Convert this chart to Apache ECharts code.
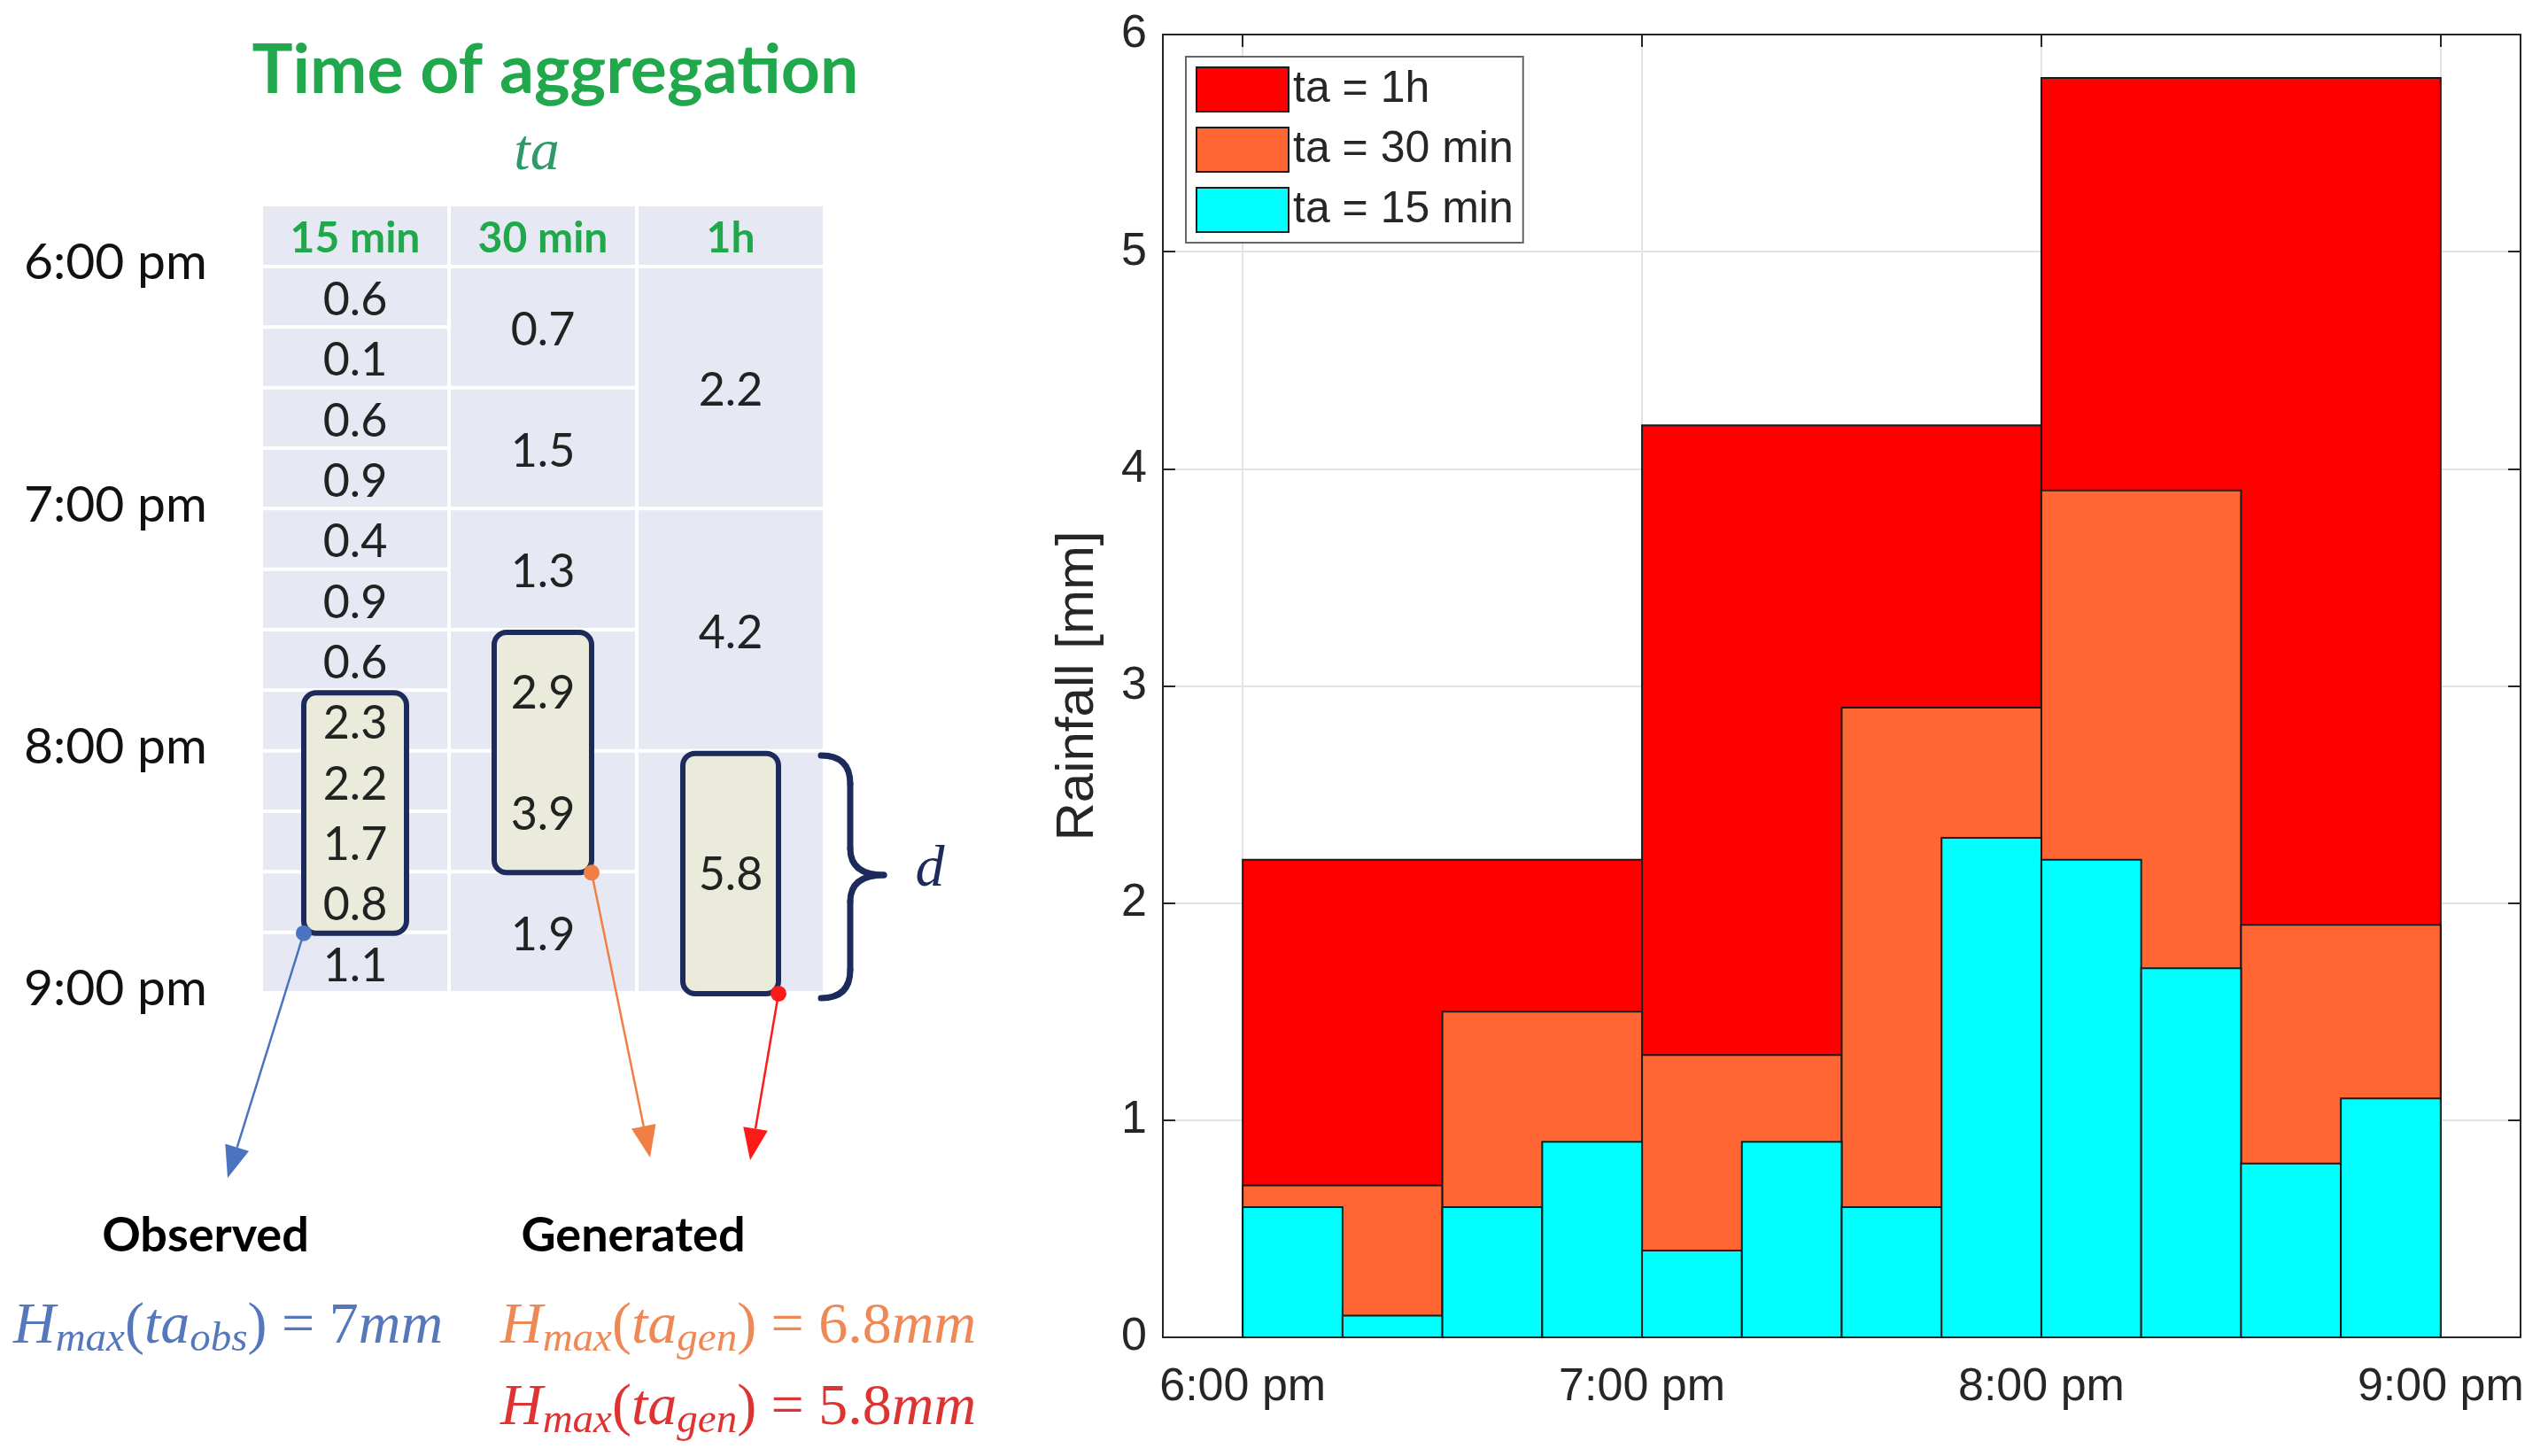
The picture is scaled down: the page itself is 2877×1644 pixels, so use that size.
<!DOCTYPE html>
<html>
<head>
<meta charset="utf-8">
<script src="https://cdn.jsdelivr.net/npm/echarts@6/dist/echarts.min.js"></script>
<style>
html, body { margin: 0; padding: 0; background: #fff; }
#main { width: 2877px; height: 1644px; }
</style>
</head>
<body>
<div id="main"></div>
<script>
// data
var timeLabels = ['6:00 pm', '7:00 pm', '8:00 pm', '9:00 pm'];
var tickMinutes = [0, 60, 120, 180];
var colHeaders = ['15 min', '30 min', '1h'];
var seriesNames = ['ta = 1h', 'ta = 30 min', 'ta = 15 min'];
var rain15 = [0.6, 0.1, 0.6, 0.9, 0.4, 0.9, 0.6, 2.3, 2.2, 1.7, 0.8, 1.1];
var rain30 = [0.7, 1.5, 1.3, 2.9, 3.9, 1.9];
var rain60 = [2.2, 4.2, 5.8];
// highlighted windows in the table: [first cell, number of cells]
var obsWindow = [7, 4];
var gen30Window = [3, 2];
var gen60Window = [2, 1];

var SANS = 'Lato';
var SERIF = 'Liberation Serif';
var navy = '#1c2b5c';
var green = '#22a84c';
var g = [];

function addText(x, y, text, size, color, extra) {
  var st = { text: text, fontSize: size, fontFamily: SANS, fill: color,
    align: 'center', verticalAlign: 'middle', textAlign: 'center', textVerticalAlign: 'middle' };
  for (var k in extra) st[k] = extra[k];
  g.push({ type: 'text', x: x, y: y, z: 20, style: st });
}

// title
addText(627, 80, 'Time of aggregation', 77, green, { fontWeight: 'bold' });
addText(606, 174, 'ta', 66, '#2f9a68', { fontFamily: SERIF, fontStyle: 'italic' });

// table
var tab = { headTop: 233, top: 303, rowH: 68.33, cols: [297, 509, 721], colW: 208 };
var spans = [1, 2, 4];
var colData = [rain15, rain30, rain60];
for (var c = 0; c < 3; c++) {
  var x0 = tab.cols[c];
  g.push({ type: 'rect', z: 1, shape: { x: x0, y: tab.headTop, width: tab.colW, height: tab.top - tab.headTop - 4 }, style: { fill: '#e6e9f3' } });
  addText(x0 + tab.colW / 2, (tab.headTop + tab.top) / 2 + 2, colHeaders[c], 48, green, { fontWeight: 'bold' });
  for (var i = 0; i < colData[c].length; i++) {
    var h = spans[c] * tab.rowH;
    var y0 = tab.top + i * h;
    g.push({ type: 'rect', z: 1, shape: { x: x0, y: y0, width: tab.colW, height: h - 4 }, style: { fill: '#e6e9f3' } });
    addText(x0 + tab.colW / 2, y0 + h / 2 + 2, colData[c][i].toFixed(1), 52, '#222');
  }
}

// time labels
for (var t = 0; t < timeLabels.length; t++) {
  addText(27, tab.top + t * 4 * tab.rowH - 6, timeLabels[t], 57, '#111', { align: 'left', textAlign: 'left' });
}

function arrow(x1, y1, x2, y2, color) {
  var dx = x2 - x1, dy = y2 - y1, len = Math.sqrt(dx * dx + dy * dy);
  var ux = dx / len, uy = dy / len, hl = 36, hw = 14;
  var bx = x2 - ux * hl, by = y2 - uy * hl;
  g.push({ type: 'line', z: 6, shape: { x1: x1, y1: y1, x2: bx, y2: by }, style: { stroke: color, lineWidth: 2.5 } });
  g.push({ type: 'polygon', z: 6, shape: { points: [[x2, y2], [bx - uy * hw, by + ux * hw], [bx + uy * hw, by - ux * hw]] }, style: { fill: color } });
  g.push({ type: 'circle', z: 7, shape: { cx: x1, cy: y1, r: 9 }, style: { fill: color } });
}

// highlighted boxes + arrows
var windows = [obsWindow, gen30Window, gen60Window];
var boxW = [116, 110, 108];
var arrowColors = ['#4a74c0', '#f07f45', '#ff1a1a'];
var arrowTips = [[257, 1330], [734, 1307], [847, 1310]];
for (var c = 0; c < 3; c++) {
  var w = windows[c];
  var cx = tab.cols[c] + tab.colW / 2;
  var ya = tab.top + w[0] * spans[c] * tab.rowH;
  var yb = ya + w[1] * spans[c] * tab.rowH;
  g.push({ type: 'rect', z: 5, shape: { x: cx - boxW[c] / 2, y: ya + 1, width: boxW[c], height: yb - ya - 2, r: 14 }, style: { fill: '#ebebdb', stroke: navy, lineWidth: 6 } });
  var ax = c === 0 ? cx - boxW[c] / 2 : cx + boxW[c] / 2;
  arrow(ax, yb - 1, arrowTips[c][0], arrowTips[c][1], arrowColors[c]);
}

// brace and d
var braceStyle = { fill: null, stroke: navy, lineWidth: 7, lineCap: 'round' };
g.push({ type: 'bezierCurve', z: 6, shape: { x1: 927, y1: 853, cpx1: 960, cpy1: 853, x2: 960, y2: 885 }, style: braceStyle });
g.push({ type: 'line', z: 6, shape: { x1: 960, y1: 885, x2: 960, y2: 958 }, style: braceStyle });
g.push({ type: 'bezierCurve', z: 6, shape: { x1: 960, y1: 958, cpx1: 960, cpy1: 988, x2: 998, y2: 988 }, style: braceStyle });
g.push({ type: 'bezierCurve', z: 6, shape: { x1: 998, y1: 988, cpx1: 960, cpy1: 988, x2: 960, y2: 1018 }, style: braceStyle });
g.push({ type: 'line', z: 6, shape: { x1: 960, y1: 1018, x2: 960, y2: 1095 }, style: braceStyle });
g.push({ type: 'bezierCurve', z: 6, shape: { x1: 960, y1: 1095, cpx1: 960, cpy1: 1127, x2: 927, y2: 1127 }, style: braceStyle });
addText(1050, 983, 'd', 66, navy, { fontFamily: SERIF, fontStyle: 'italic' });

addText(232, 1396, 'Observed', 54, '#000', { fontWeight: 'bold' });
addText(715, 1396, 'Generated', 54, '#000', { fontWeight: 'bold' });

function formula(x, y, sub, val, color) {
  var m = { fontFamily: SERIF, fontSize: 66, fontStyle: 'italic', lineHeight: 70, padding: [0, 0, 20, 0], verticalAlign: 'top', fill: color };
  var u = { fontFamily: SERIF, fontSize: 66, fontStyle: 'normal', lineHeight: 70, padding: [0, 0, 20, 0], verticalAlign: 'top', fill: color };
  var s = { fontFamily: SERIF, fontSize: 47, fontStyle: 'italic', lineHeight: 48, verticalAlign: 'bottom', fill: color };
  g.push({ type: 'text', x: x, y: y, z: 20, style: {
    text: '{m|H}{s|max}{u|(}{m|ta}{s|' + sub + '}{u|) = ' + val + '}{m|mm}',
    rich: { m: m, u: u, s: s }, fill: color, align: 'left', verticalAlign: 'top', textAlign: 'left', textVerticalAlign: 'top' } });
}
formula(15, 1466, 'obs', '7', '#5577bb');
formula(565, 1466, 'gen', '6.8', '#ee8855');
formula(565, 1558, 'gen', '5.8', '#dd3333');

// chart
function binSeries(name, values, minutes, color) {
  return {
    type: 'custom', name: name, xAxisIndex: 0, yAxisIndex: 0,
    data: values.map(function (v, i) { return [i * minutes, v]; }),
    encode: { x: 0, y: 1 },
    itemStyle: { color: color, borderColor: '#1a1a1a', borderWidth: 2 },
    renderItem: function (params, api) {
      var x0 = api.value(0), v = api.value(1);
      var a = api.coord([x0, v]), b = api.coord([x0 + minutes, 0]);
      return { type: 'rect', shape: { x: a[0], y: a[1], width: b[0] - a[0], height: b[1] - a[1] }, style: api.style() };
    }
  };
}

var axisCol = '#262626';
var option = {
  animation: false,
  backgroundColor: '#fff',
  textStyle: { fontFamily: 'Liberation Sans' },
  grid: { left: 1313, right: 31, top: 39, bottom: 134 },
  legend: {
    data: seriesNames, orient: 'vertical', left: 1339, top: 64,
    icon: 'rect', itemWidth: 104, itemHeight: 50, itemGap: 16,
    padding: [11, 11, 11, 11], backgroundColor: '#fff', borderColor: '#666', borderWidth: 2, borderRadius: 0,
    itemStyle: { borderColor: '#1a1a1a', borderWidth: 2 },
    textStyle: { fontSize: 50, lineHeight: 50, color: axisCol, fontFamily: 'Liberation Sans' }
  },
  xAxis: [{
    type: 'value', min: -12, max: 192, position: 'bottom',
    axisLine: { show: true, onZero: false, lineStyle: { color: axisCol, width: 2 } },
    axisTick: { show: true, inside: true, length: 14, customValues: tickMinutes, lineStyle: { color: axisCol, width: 2 } },
    axisLabel: { customValues: tickMinutes, fontSize: 52, color: axisCol, margin: 31,
      formatter: function (v) { var k = tickMinutes.indexOf(+v); return k < 0 ? '' : timeLabels[k]; } },
    splitLine: { show: true, lineStyle: { color: '#e3e3e3', width: 2 } }
  }, {
    type: 'value', min: -12, max: 192, position: 'top',
    axisLine: { show: true, onZero: false, lineStyle: { color: axisCol, width: 2 } },
    axisTick: { show: true, inside: true, length: 14, customValues: tickMinutes, lineStyle: { color: axisCol, width: 2 } },
    axisLabel: { show: false }, splitLine: { show: false }
  }],
  yAxis: [{
    type: 'value', min: 0, max: 6, interval: 1,
    name: 'Rainfall [mm]', nameLocation: 'middle', nameGap: 66,
    nameTextStyle: { fontSize: 60, color: axisCol },
    axisLine: { show: true, onZero: false, lineStyle: { color: axisCol, width: 2 } },
    axisTick: { show: true, inside: true, length: 14, lineStyle: { color: axisCol, width: 2 } },
    axisLabel: { fontSize: 52, color: axisCol, margin: 18 },
    splitLine: { show: true, lineStyle: { color: '#e3e3e3', width: 2 } }
  }, {
    type: 'value', min: 0, max: 6, interval: 1, position: 'right',
    axisLine: { show: true, onZero: false, lineStyle: { color: axisCol, width: 2 } },
    axisTick: { show: true, inside: true, length: 14, lineStyle: { color: axisCol, width: 2 } },
    axisLabel: { show: false }, splitLine: { show: false }
  }],
  graphic: g,
  series: [
    binSeries(seriesNames[0], rain60, 60, '#ff0000'),
    binSeries(seriesNames[1], rain30, 30, '#ff6633'),
    binSeries(seriesNames[2], rain15, 15, '#00ffff')
  ]
};

var chart = echarts.init(document.getElementById('main'));
chart.setOption(option);
</script>
</body>
</html>
